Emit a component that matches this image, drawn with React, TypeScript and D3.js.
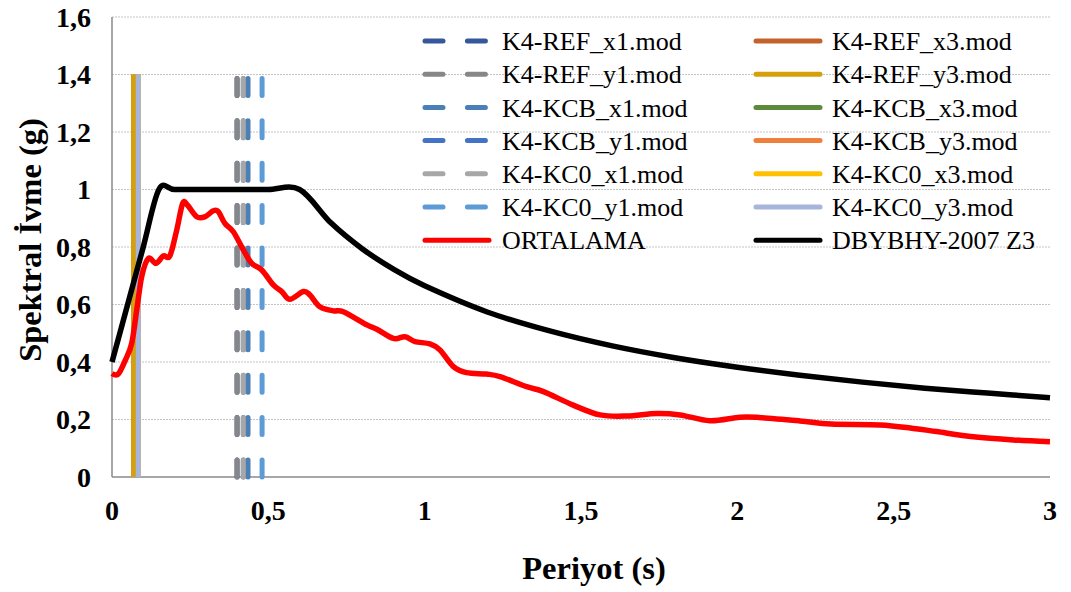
import * as d3 from 'd3'

const W = 1071
const H = 592
const FONT = 'Liberation Serif, Times New Roman, serif'

// axis ticks
const Y_TICKS = [0, 0.2, 0.4, 0.6, 0.8, 1, 1.2, 1.4, 1.6]
const X_TICKS = [0, 0.5, 1, 1.5, 2, 2.5, 3]

// model period markers (drawn as vertical lines from 0 to MODEL_TOP), in Excel series order
const MODEL_NAMES = [
  'K4-REF_x1.mod', 'K4-REF_x3.mod',
  'K4-REF_y1.mod', 'K4-REF_y3.mod',
  'K4-KCB_x1.mod', 'K4-KCB_x3.mod',
  'K4-KCB_y1.mod', 'K4-KCB_y3.mod',
  'K4-KC0_x1.mod', 'K4-KC0_x3.mod',
  'K4-KC0_y1.mod', 'K4-KC0_y3.mod',
]
const MODEL_PERIODS = [0.40, 0.069, 0.40, 0.069, 0.435, 0.084, 0.42, 0.084, 0.42, 0.084, 0.48, 0.084]
const MODEL_TOP = 1.4
const MODEL_COLORS = [
  '#34589a', '#c4622c',
  '#878787', '#d4a10c',
  '#4b80b6', '#5b8b3b',
  '#4472c4', '#ef7f3a',
  '#a7a7a7', '#ffc000',
  '#5c9bd6', '#a7b5dc',
]
const MODEL_DASHED = [true, false, true, false, true, false, true, false, true, false, true, false]

// ORTALAMA (average spectrum)
const AVG_T = [0, 0.02, 0.042, 0.063, 0.079, 0.095, 0.116, 0.141, 0.164, 0.185, 0.207, 0.226, 0.241,
  0.271, 0.297, 0.324, 0.34, 0.361, 0.388, 0.42, 0.447, 0.479, 0.516, 0.543, 0.569, 0.612, 0.633,
  0.665, 0.708, 0.74, 0.815, 0.847, 0.9, 0.937, 0.969, 1.017, 1.049, 1.092, 1.134, 1.198, 1.241,
  1.326, 1.38, 1.475, 1.561, 1.646, 1.742, 1.817, 1.912, 2.008, 2.07, 2.2, 2.3, 2.456, 2.563,
  2.637, 2.755, 2.883, 3.0]
const AVG_SA = [0.36, 0.358, 0.405, 0.465, 0.58, 0.697, 0.76, 0.743, 0.769, 0.769, 0.859, 0.952, 0.946,
  0.905, 0.905, 0.926, 0.923, 0.882, 0.853, 0.79, 0.743, 0.72, 0.668, 0.645, 0.618, 0.645, 0.633,
  0.592, 0.578, 0.575, 0.529, 0.514, 0.482, 0.488, 0.471, 0.463, 0.442, 0.384, 0.363, 0.358, 0.349,
  0.314, 0.297, 0.25, 0.216, 0.212, 0.221, 0.216, 0.196, 0.208, 0.207, 0.195, 0.184, 0.181, 0.169,
  0.158, 0.14, 0.129, 0.123]

// DBYBHY-2007 Z3 design spectrum
const DBY_T = [0, 0.05, 0.1, 0.15, 0.2, 0.3, 0.4, 0.5, 0.6, 0.7, 0.8, 0.9, 1.0, 1.2, 1.4, 1.6, 1.8,
  2.0, 2.2, 2.4, 2.6, 2.8, 3.0]
const DBY_SA = [0.4, 0.6, 0.8, 1.0, 1.0, 1.0, 1.0, 1.0, 1.0, 0.884, 0.794, 0.723, 0.665, 0.574, 0.508,
  0.456, 0.415, 0.382, 0.354, 0.33, 0.309, 0.292, 0.276]

const fmt = (v: number) => String(v).replace('.', ',')

export default function App() {
  const left = 112, right = 1050, top = 17, bottom = 477
  const x = d3.scaleLinear().domain([0, 3]).range([left, right])
  const y = d3.scaleLinear().domain([0, 1.6]).range([bottom, top])

  const line = d3.line<[number, number]>()
    .x((d) => x(d[0]))
    .y((d) => y(d[1]))
    .curve(d3.curveCardinal.tension(0))

  const avgPath = line(AVG_T.map((t, i) => [t, AVG_SA[i]])) || ''
  const dbyPath = line(DBY_T.map((t, i) => [t, DBY_SA[i]])) || ''

  const dash = '17 25.4'
  const legendRows = [...MODEL_NAMES.map((n, i) => ({
    name: n, color: MODEL_COLORS[i], dashed: MODEL_DASHED[i],
  })), { name: 'ORTALAMA', color: '#ff0000', dashed: false }, { name: 'DBYBHY-2007 Z3', color: '#000000', dashed: false }]

  const txt = { fontFamily: FONT }

  return (
    <svg width={W} height={H} style={{ position: 'absolute', left: 0, top: 0, background: '#fff', fontFamily: FONT }}>
      {/* gridlines */}
      {Y_TICKS.filter((t) => t > 0).map((t) => (
        <line key={t} x1={left} x2={right} y1={y(t)} y2={y(t)} stroke="#c4c4c4" strokeWidth={1}
          strokeDasharray="2 1" />
      ))}
      {/* axes */}
      <line x1={left} x2={left} y1={top} y2={bottom} stroke="#8a8a8a" strokeWidth={1.5} />
      <line x1={left} x2={right} y1={bottom} y2={bottom} stroke="#8a8a8a" strokeWidth={1.5} />

      {/* period markers */}
      {MODEL_PERIODS.map((p, i) => (
        <line key={i} x1={x(p)} x2={x(p)} y1={y(0)} y2={y(MODEL_TOP)} stroke={MODEL_COLORS[i]}
          strokeWidth={5} strokeLinecap={MODEL_DASHED[i] ? 'round' : 'butt'}
          strokeDasharray={MODEL_DASHED[i] ? dash : undefined} />
      ))}

      <path d={avgPath} fill="none" stroke="#ff0000" strokeWidth={5.5} strokeLinejoin="round" />
      <path d={dbyPath} fill="none" stroke="#000" strokeWidth={5.5} strokeLinejoin="round" />

      {/* tick labels */}
      {Y_TICKS.map((t) => (
        <text key={t} style={txt} x={91} y={y(t)} dy="0.35em" textAnchor="end" fontSize={28} fontWeight="bold">
          {fmt(t)}
        </text>
      ))}
      {X_TICKS.map((t) => (
        <text key={t} style={txt} x={x(t)} y={510} dy="0.35em" textAnchor="middle" fontSize={28} fontWeight="bold">
          {fmt(t)}
        </text>
      ))}

      {/* axis titles */}
      <text style={txt} x={594} y={568} dy="0.35em" textAnchor="middle" fontSize={32.5} fontWeight="bold">Periyot (s)</text>
      <text style={txt} transform={`translate(30,240) rotate(-90)`} dy="0.35em" textAnchor="middle" fontSize={32.5}
        fontWeight="bold">Spektral İvme (g)</text>

      {/* legend */}
      {legendRows.map((r, i) => {
        const col = i % 2
        const row = Math.floor(i / 2)
        const lx = col === 0 ? 425 : 756
        const ly = 41 + row * 33.2
        const tx = col === 0 ? 502 : 832
        return (
          <g key={r.name}>
            <line x1={lx} x2={lx + 64} y1={ly} y2={ly} stroke={r.color} strokeWidth={5}
              strokeLinecap="round" strokeDasharray={r.dashed ? '18 24.4' : undefined} />
            <text style={txt} x={tx} y={ly} dy="0.35em" fontSize={26}>{r.name}</text>
          </g>
        )
      })}
    </svg>
  )
}
